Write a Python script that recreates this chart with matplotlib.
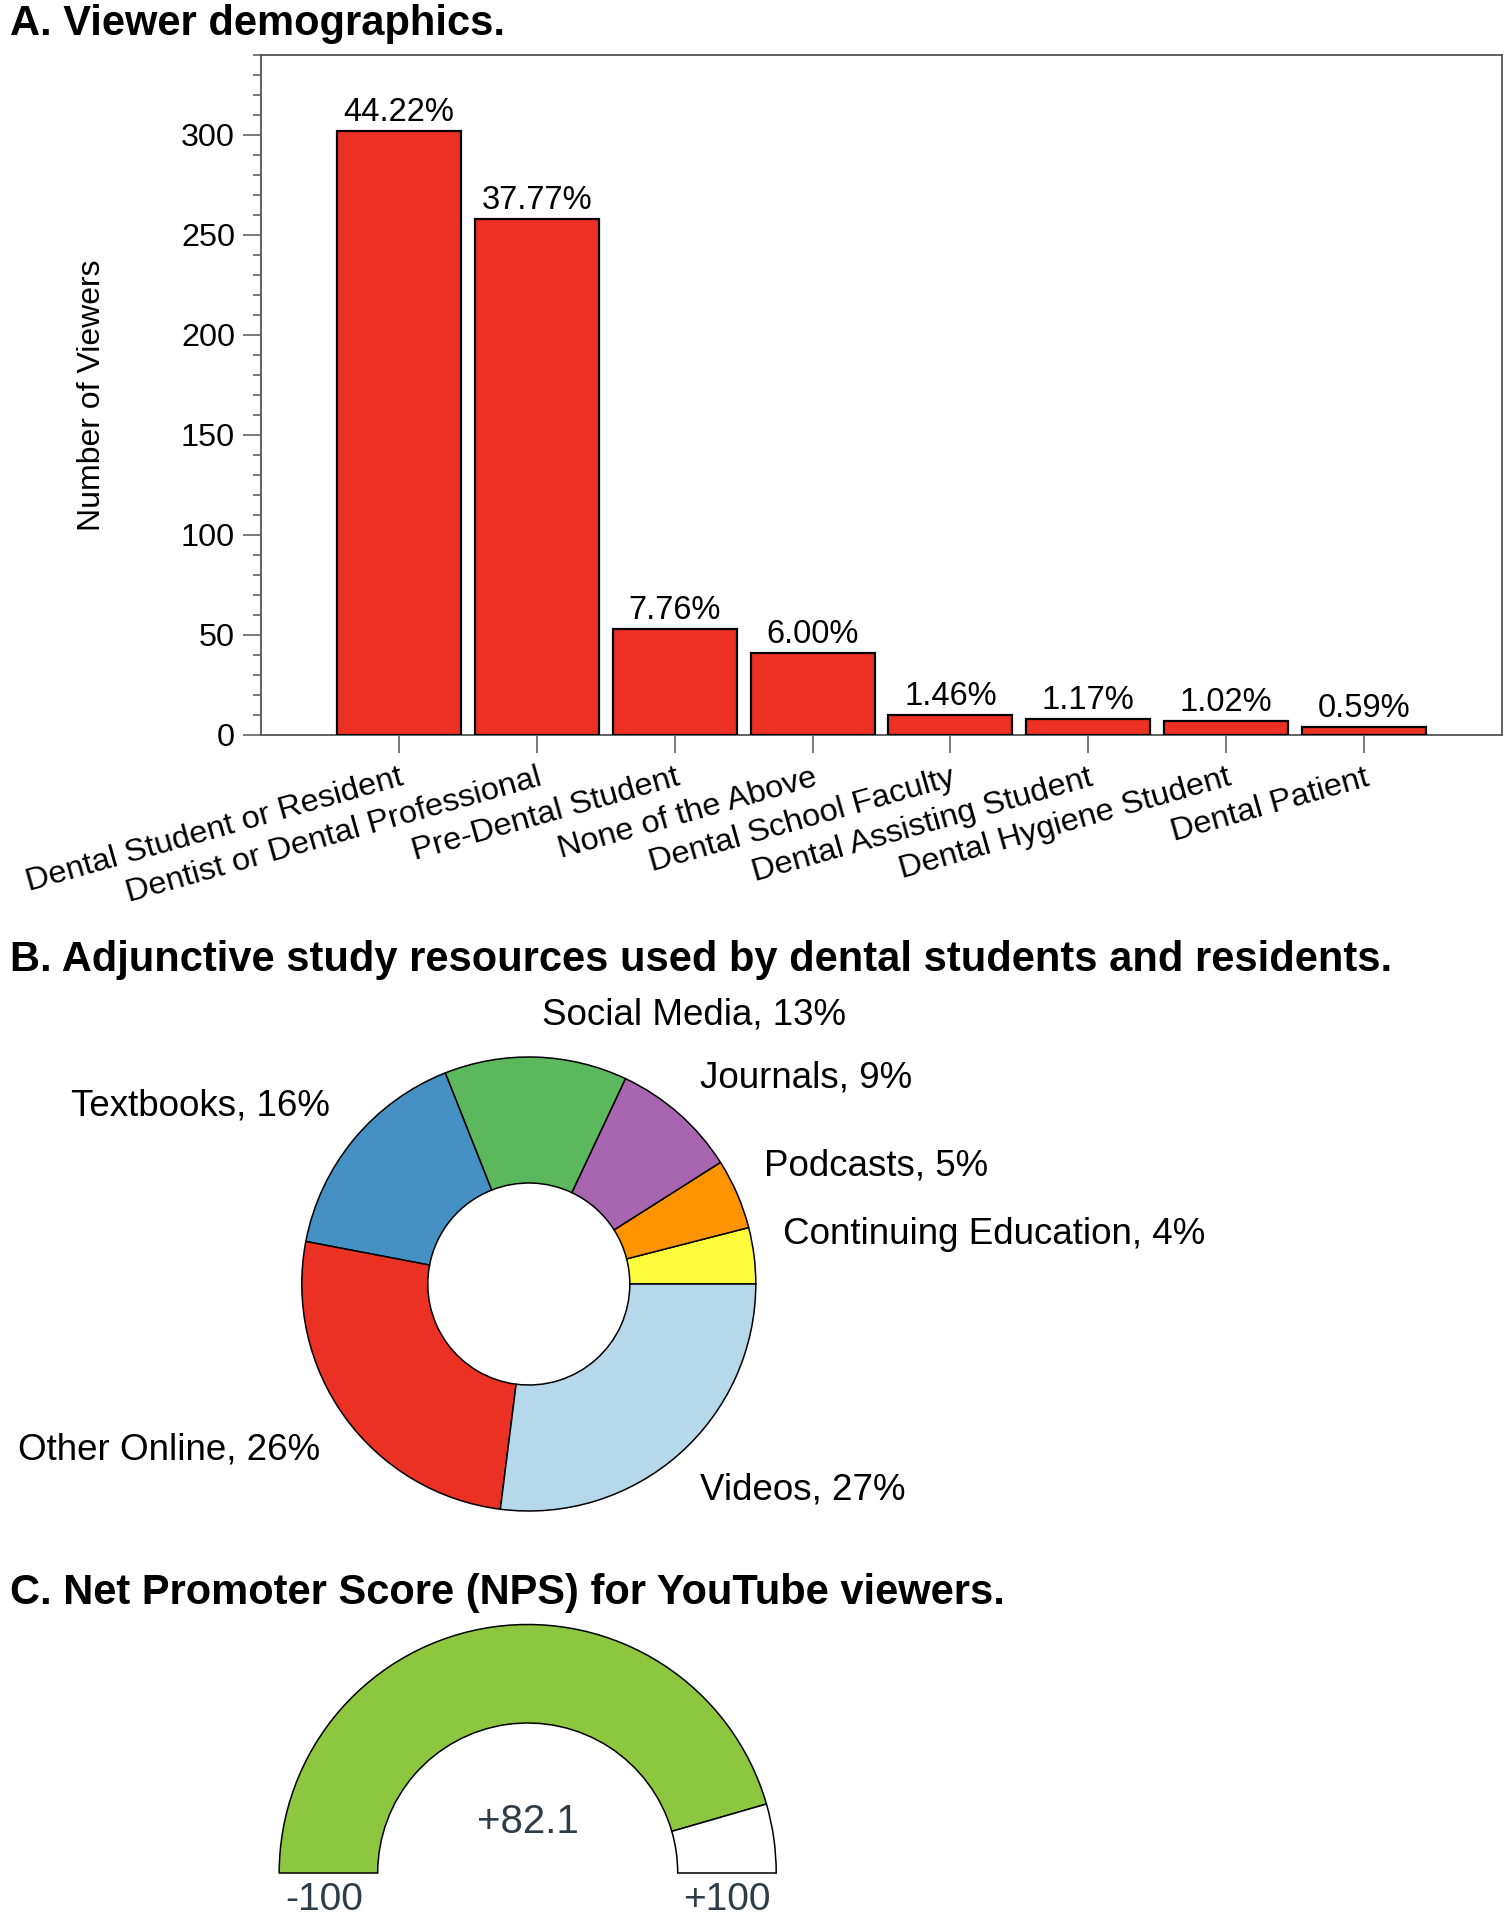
import numpy as np
import matplotlib
matplotlib.use("Agg")
import matplotlib.pyplot as plt
from matplotlib.patches import Wedge

# ---------------- data ----------------
categories = ["Dental Student or Resident", "Dentist or Dental Professional",
              "Pre-Dental Student", "None of the Above", "Dental School Faculty",
              "Dental Assisting Student", "Dental Hygiene Student", "Dental Patient"]
viewers = [302, 258, 53, 41, 10, 8, 7, 4]

resources = ["Continuing Education", "Podcasts", "Journals", "Social Media",
             "Textbooks", "Other Online", "Videos"]
resource_share = [4, 5, 9, 13, 16, 26, 27]
resource_colors = ["#FFFB3D", "#FF9300", "#A866B0", "#5CB85C",
                   "#4591C4", "#EB3124", "#B5D8EA"]

nps_score = 82.1
nps_min, nps_max = -100, 100

# ---------------- figure ----------------
W, H = 1512, 1920
plt.rcParams['font.family'] = ['Liberation Sans', 'DejaVu Sans']
fig = plt.figure(figsize=(W / 100, H / 100), dpi=100)

def fx(px):
    return px / W

def fy(py):
    return 1 - py / H

# ---------- Panel A ----------
L, R_, T, B = 261, 1502, 55, 735
ax = fig.add_axes([fx(L), fy(B), (R_ - L) / W, (B - T) / H])
x = np.arange(len(categories))
bars = ax.bar(x, viewers, width=0.9, color="#EC3124", edgecolor="black", linewidth=1.6, zorder=3)
total = sum(viewers)
pct_labels = [f"{v / total * 100:.2f}%" for v in viewers]
ax.bar_label(bars, labels=pct_labels, padding=2, fontsize=23.5)
ax.set_xlim(-1, len(categories))
ax.set_ylim(0, 340)
ax.set_yticks(np.arange(0, 301, 50))
ax.set_yticks(np.arange(0, 341, 10), minor=True)
ax.set_xticks(x)
ax.set_xticklabels(categories, rotation=15.8, ha='right', va='top', rotation_mode='anchor')
ax.tick_params(axis='y', which='major', length=12.7, width=1.1, color='#555555', labelsize=23.3, pad=6)
ax.tick_params(axis='y', which='minor', length=5.8, width=1.1, color='#555555')
ax.tick_params(axis='x', which='major', length=13, width=1.1, color='#555555', labelsize=23.4, pad=7)
for s in ax.spines.values():
    s.set_color('#555555')
    s.set_linewidth(1.3)
ax.set_ylabel("Number of Viewers", fontsize=23)
ax.yaxis.set_label_coords(-0.124, 0.5)

# ---------- overlay axes for panels B and C (pixel units) ----------
ov = fig.add_axes([0, 0, 1, 1])
ov.patch.set_alpha(0)

# Panel B: donut
cx, cy = 528.8, H - 1284
Rout, Rin = 227, 101
wedges, _ = ov.pie(resource_share, colors=resource_colors, startangle=0, counterclock=True,
                   radius=Rout, center=(cx, cy),
                   wedgeprops=dict(width=Rout - Rin, edgecolor='black', linewidth=1.1))
ov.set_aspect('auto')
ov.set_xlim(0, W)
ov.set_ylim(0, H)
ov.axis('off')
cum = np.cumsum([0] + resource_share)
r_lab = 1.107 * Rout
for i, (name, share) in enumerate(zip(resources, resource_share)):
    mid = np.deg2rad((cum[i] + cum[i + 1]) / 2 / 100 * 360)
    c, s = np.cos(mid), np.sin(mid)
    lx = cx + r_lab * c + np.sign(c) * 5
    ly = cy + r_lab * s + np.sign(s) * 18
    ha = 'left' if c >= 0 else 'right'
    ov.text(lx, ly, f"{name}, {share}%", ha=ha, va='center', fontsize=26.5)

# Panel C: gauge
gx, gy = 527.7, H - 1873
gR, gr = 248.5, 150
frac = (nps_score - nps_min) / (nps_max - nps_min)
split = 180 * (1 - frac)
ov.add_patch(Wedge((gx, gy), gR, split, 180, width=gR - gr, facecolor="#8DC63F",
                   edgecolor='black', linewidth=1.1))
ov.add_patch(Wedge((gx, gy), gR, 0, split, width=gR - gr, facecolor="white",
                   edgecolor='black', linewidth=1.1))
gauge_txt = '#2E3C48'
ov.text(gx, gy + 0.206 * gR, f"+{nps_score}", ha='center', va='center', fontsize=29, color=gauge_txt)
band = (gR + gr) / 2
ov.text(gx - band - 4, gy - 9, f"{nps_min}", ha='center', va='top', fontsize=28, color=gauge_txt)
ov.text(gx + band, gy - 9, f"+{nps_max}", ha='center', va='top', fontsize=28, color=gauge_txt)

# ---------- titles ----------
fig.text(fx(10), fy(35.5), "A. Viewer demographics.", fontsize=30, fontweight='bold', va='baseline')
fig.text(fx(10), fy(971), "B. Adjunctive study resources used by dental students and residents.",
         fontsize=30, fontweight='bold', va='baseline')
fig.text(fx(10), fy(1604), "C. Net Promoter Score (NPS) for YouTube viewers.",
         fontsize=30, fontweight='bold', va='baseline')

fig.savefig("out.png", dpi=100)
